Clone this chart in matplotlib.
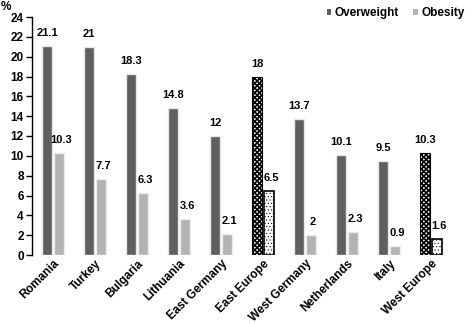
import matplotlib
matplotlib.use("Agg")
import matplotlib.pyplot as plt
import numpy as np
from matplotlib.patches import Patch

categories = ["Romania", "Turkey", "Bulgaria", "Lithuania", "East Germany",
              "East Europe", "West Germany", "Netherlands", "Italy", "West Europe"]
overweight = [21.1, 21, 18.3, 14.8, 12, 18, 13.7, 10.1, 9.5, 10.3]
obesity = [10.3, 7.7, 6.3, 3.6, 2.1, 6.5, 2, 2.3, 0.9, 1.6]
overweight_labels = ["21.1", "21", "18.3", "14.8", "12", "18", "13.7", "10.1", "9.5", "10.3"]
obesity_labels = ["10.3", "7.7", "6.3", "3.6", "2.1", "6.5", "2", "2.3", "0.9", "1.6"]
yticks = list(range(0, 25, 2))
summary = {"East Europe", "West Europe"}

plt.rcParams['font.family'] = ['Liberation Sans', 'DejaVu Sans']

fig = plt.figure(figsize=(4.73, 3.24), dpi=100)
ax = fig.add_axes([32/473, 1-255/324, 420/473, (255-17)/324])

x = np.arange(len(categories))
w = 0.26
off = 0.143
dark = "#5f5f5f"
light = "#b3b3b3"

for i, c in enumerate(categories):
    if c in summary:
        plt.rcParams['hatch.linewidth'] = 1.2
        ax.bar(x[i]-off, overweight[i], w, facecolor="white", edgecolor="black",
               hatch="xxxxxxx", linewidth=0.0, zorder=3)
        ax.bar(x[i]-off, overweight[i], w, facecolor="none", edgecolor="black",
               linewidth=0.8, zorder=4)
        plt.rcParams['hatch.linewidth'] = 0.4
        ax.bar(x[i]+off, obesity[i], w, facecolor="white", edgecolor="black",
               hatch=".....", linewidth=0.0, zorder=3)
        ax.bar(x[i]+off, obesity[i], w, facecolor="none", edgecolor="black",
               linewidth=1.2, zorder=4)
    else:
        ax.bar(x[i]-off, overweight[i], w, color=dark, edgecolor="#e6e6e6", linewidth=1.0, zorder=3)
        ax.bar(x[i]+off, obesity[i], w, color=light, edgecolor="#ececec", linewidth=1.0, zorder=3)
    ax.text(x[i]-off, overweight[i]+0.8, overweight_labels[i], ha="center", va="bottom",
            fontsize=8, fontweight="bold")
    ax.text(x[i]+off+0.05, obesity[i]+0.8, obesity_labels[i], ha="center", va="bottom",
            fontsize=8, fontweight="bold")

ax.set_xlim(-0.5, len(categories)-0.5)
ax.set_ylim(0, 24)
ax.set_yticks(yticks)
ax.set_yticklabels([str(t) for t in yticks], fontsize=8.5, fontweight="bold")
ax.set_xticks(x)
ax.set_xticklabels(categories, rotation=45, ha="right", rotation_mode="anchor",
                   fontsize=8.5, fontweight="bold")
ax.tick_params(axis="x", length=0, pad=2)
ax.tick_params(axis="y", length=4, width=1, direction="out", pad=2)
for s in ["top", "right", "bottom"]:
    ax.spines[s].set_visible(False)
ax.spines["left"].set_linewidth(1)

fig.text(1/473, 1-1/324, "%", fontsize=8.5, fontweight="bold", va="top")

handles = [Patch(facecolor=dark, label="Overweight"), Patch(facecolor=light, label="Obesity")]
fig.legend(handles=handles, loc="upper right", bbox_to_anchor=(1.005, 1.01), ncol=2, frameon=False,
           prop={"size": 8.5, "weight": "bold"}, handlelength=0.4, handleheight=0.4,
           handletextpad=0.3, columnspacing=1.2)

fig.savefig("out.png", dpi=100)
